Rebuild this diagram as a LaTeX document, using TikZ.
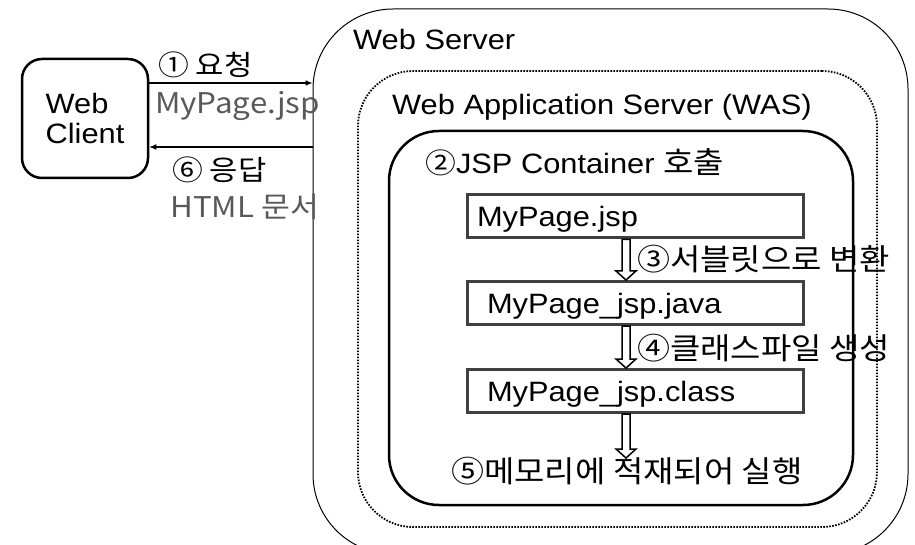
\documentclass[tikz,border=0pt]{standalone}
\usepackage{fontspec}
\setmainfont{Liberation Sans}[FakeStretch=1.1]
\newfontfamily\kr{Noto Sans CJK KR}[FakeStretch=1.1]
\usetikzlibrary{arrows.meta,calc}
\definecolor{boxgray}{RGB}{64,64,64}
\definecolor{txtgray}{RGB}{89,89,89}
\tikzset{
  every node/.style={font=\fontsize{28}{30}\selectfont, inner sep=0pt},
  container/.style={draw, rounded corners=#1, inner sep=0pt},
  filebox/.style={draw=boxgray, line width=3pt, minimum width=336pt, minimum height=43pt,
    inner ysep=0pt, inner xsep=10pt, text width=316pt, align=left, text height=20pt, text depth=0pt},
  lbl/.style={anchor=base west},
  krlbl/.style={anchor=base west, font=\kr\fontsize{30}{32}\selectfont},
  krsmall/.style={anchor=base west, font=\kr\fontsize{28}{30}\selectfont},
  gtxt/.style={anchor=base west, text=txtgray, font=\kr\fontsize{28.5}{30}\selectfont},
  flow/.style={draw, line width=1.2pt, -{Latex[length=7pt,width=6pt]}},
  hollow/.style={draw, line width=1.5pt, fill=white, line join=miter},
}
\newcommand\hollowarrow[2]{%
  \path[hollow] ($(#1)+(-4,0)$) -- ($(#2)+(-4,-9)$) -- ($(#2)+(-10,-9)$) -- (#2)
    -- ($(#2)+(10,-9)$) -- ($(#2)+(4,-9)$) -- ($(#1)+(4,0)$) -- cycle;}
\begin{document}
\begin{tikzpicture}[x=1pt,y=-1pt]
\useasboundingbox (0,0) rectangle (915,545);
\clip (0,0) rectangle (915,545);
% containers
\node[container=80pt, line width=1pt, minimum width=595pt, minimum height=545pt] (ws) at (610.5,281.5) {};
\node[container=55pt, line width=1.8pt, dash pattern=on 1.6pt off 1.4pt, minimum width=519pt, minimum height=456pt] (was) at (617.5,299) {};
\node[container=50pt, line width=2.5pt, minimum width=464pt, minimum height=374pt] (jsp) at (621,318) {};
% client
\node[container=20pt, line width=2.5pt, minimum width=126pt, minimum height=119pt, align=left] (cl) at (85,118.5) {Web\\Client};
% file boxes
\node[filebox] (f1) at (635,216.5) {MyPage.jsp};
\node[filebox] (f2) at (635,303) {\hspace*{10pt}MyPage\_jsp.java};
\node[filebox] (f3) at (635,391) {\hspace*{10pt}MyPage\_jsp.class};
% titles
\node[lbl] (tws) at (353,50) {Web Server};
\node[lbl] (twas) at (392,115) {Web Application Server (WAS)};
\node[lbl] (tjsp) at (425,174) {{\kr ②}JSP Container {\kr\fontsize{30}{32}\selectfont 호출}};
% hollow arrows
\coordinate (a3) at ($(f3.south)+(-9,44)$);
\hollowarrow{$(f1.south)+(-9,0)$}{$(f2.north)+(-9,0)$}
\hollowarrow{$(f2.south)+(-9,0)$}{$(f3.north)+(-9,0)$}
\node[krlbl] (t5) at (451,482) {⑤메모리에 적재되어 실행};
\hollowarrow{$(f3.south)+(-9,0)$}{a3}
\node[krlbl] (t3) at (637,271) {③서블릿으로 변환};
\node[krlbl] (t4) at (637,359) {④클래스파일 생성};
% request / response
\coordinate (yreq) at (0,83);
\coordinate (yres) at (0,147);
\draw[flow] (cl.east |- yreq) -- (ws.west |- yreq);
\draw[flow] (ws.west |- yres) -- (cl.east |- yres);
\node[krsmall] (t1) at (158,76) {① 요청};
\node[gtxt] (g1) at (155,114) {MyPage.jsp};
\node[krsmall] (t6) at (172,181) {⑥ 응답};
\node[gtxt] (g6) at (170,218) {HTML 문서};
\end{tikzpicture}
\end{document}
